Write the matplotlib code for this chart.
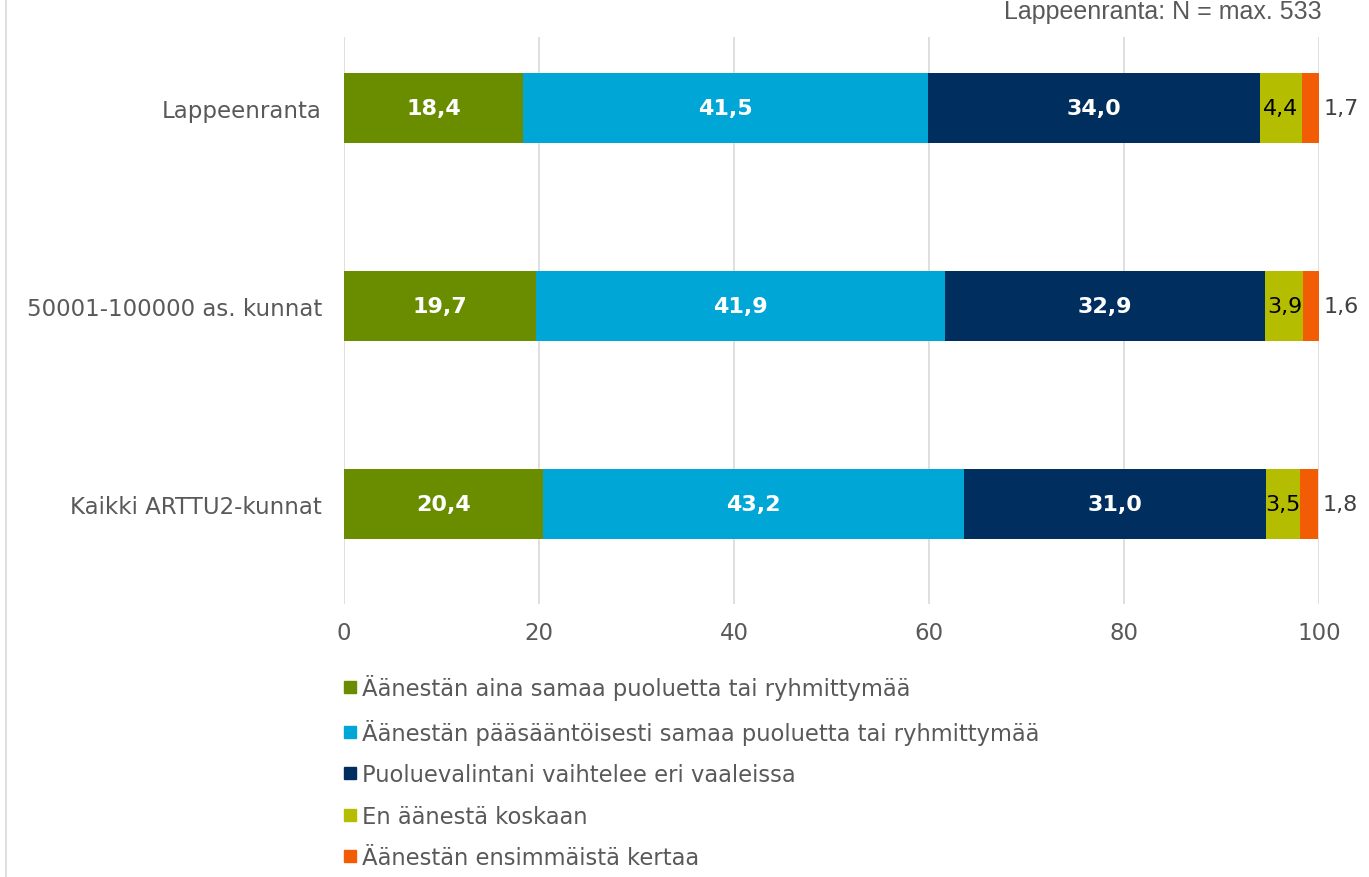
import matplotlib.pyplot as plt
import numpy as np
from matplotlib.lines import Line2D

categories = ['Lappeenranta', '50001-100000 as. kunnat', 'Kaikki ARTTU2-kunnat']
series_names = ['Äänestän aina samaa puoluetta tai ryhmittymää',
                'Äänestän pääsääntöisesti samaa puoluetta tai ryhmittymää',
                'Puoluevalintani vaihtelee eri vaaleissa',
                'En äänestä koskaan',
                'Äänestän ensimmäistä kertaa']
aina = [18.4, 19.7, 20.4]
paasaantoisesti = [41.5, 41.9, 43.2]
vaihtelee = [34.0, 32.9, 31.0]
en_koskaan = [4.4, 3.9, 3.5]
ensimmaista = [1.7, 1.6, 1.8]
colors = ['#6A8D00', '#00A6D6', '#002F5F', '#B5BD00', '#F25C05']
note = 'Lappeenranta: N = max. 533'

series = [aina, paasaantoisesti, vaihtelee, en_koskaan, ensimmaista]

fig = plt.figure(figsize=(13.69, 8.78), dpi=100)
ax = fig.add_axes([344 / 1369, 1 - 605 / 878, 975 / 1369, 567 / 878])

y = np.arange(len(categories))
left = np.zeros(len(categories))
for i, (vals, col) in enumerate(zip(series, colors)):
    vals = np.array(vals)
    ax.barh(y, vals, left=left, height=0.354, color=col, zorder=3)
    for j, v in enumerate(vals):
        txt = f'{v:.1f}'.replace('.', ',')
        if i < 3:
            ax.text(left[j] + v / 2, y[j], txt, ha='center', va='center',
                    color='white', fontsize=16, fontweight='bold', zorder=4)
        elif i == 3:
            ax.text(left[j] + v / 2, y[j], txt, ha='center', va='center',
                    color='black', fontsize=16, zorder=4)
        else:
            ax.text(left[j] + v + 0.5, y[j], txt, ha='left', va='center',
                    color='#404040', fontsize=16, zorder=4)
    left += vals

ax.set_xlim(0, 100)
ax.set_ylim(2.505, -0.359)
ax.set_xticks([0, 20, 40, 60, 80, 100])
ax.set_yticks(y)
ax.set_yticklabels(categories)
ax.tick_params(axis='both', length=0, labelsize=16.5, labelcolor='#595959')
ax.tick_params(axis='y', pad=16)
ax.tick_params(axis='x', pad=12)
ax.grid(axis='x', color='#D9D9D9', linewidth=1.2, zorder=0)
for s in ax.spines.values():
    s.set_visible(False)

handles = [Line2D([], [], marker='s', linestyle='none', markersize=9,
                  color=c) for c in colors]
fig.legend(handles, series_names, loc='upper left',
           bbox_to_anchor=(330 / 1369, 1 - 666 / 878), frameon=False,
           fontsize=16.3, labelcolor='#595959', handletextpad=0.0,
           handlelength=1.0, labelspacing=0.82, borderaxespad=0)

fig.text(1322 / 1369, 1 - 12 / 878, note, ha='right', va='center',
         fontsize=18, color='#595959', family='Liberation Sans')
fig.add_artist(Line2D([6 / 1369, 6 / 1369], [0, 1], color='#D9D9D9',
                      linewidth=1.2))

fig.savefig('out.png', dpi=100)
